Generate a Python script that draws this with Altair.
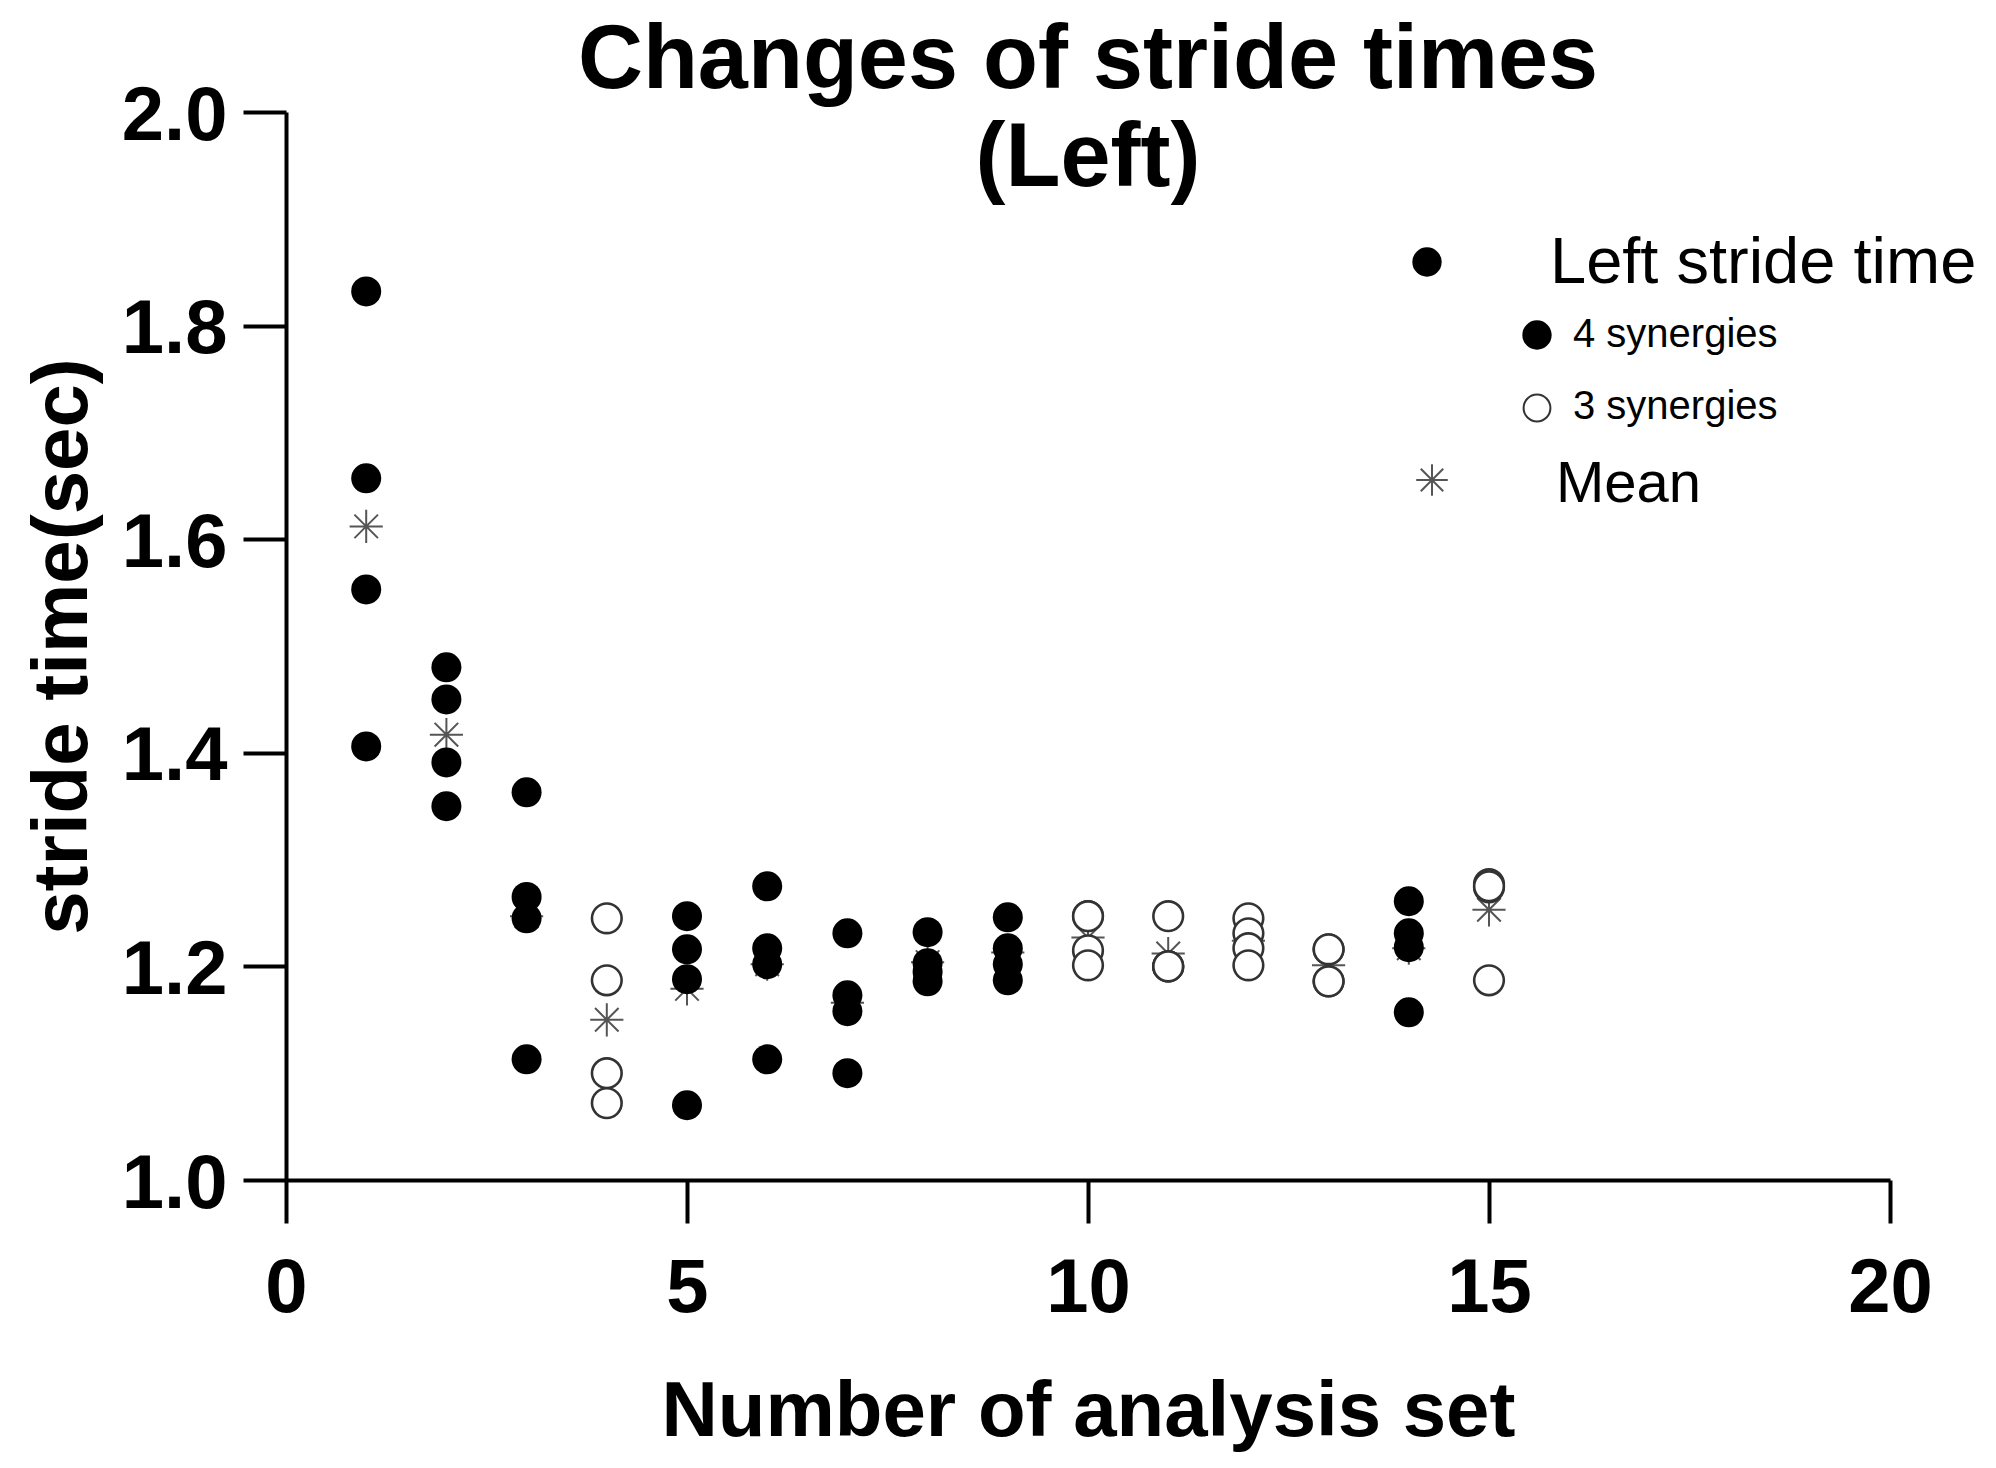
import altair as alt
import pandas as pd

# ---------------- data ----------------
four_syn_sets = [1, 1, 1, 1, 2, 2, 2, 2, 3, 3, 3, 3, 5, 5, 5, 5, 6, 6, 6, 6,
                 7, 7, 7, 7, 8, 8, 8, 8, 9, 9, 9, 9, 14, 14, 14, 14]
four_syn_times = [1.832, 1.657, 1.553, 1.406,
                  1.480, 1.450, 1.391, 1.350,
                  1.363, 1.265, 1.245, 1.113,
                  1.247, 1.216, 1.188, 1.070,
                  1.275, 1.217, 1.202, 1.113,
                  1.231, 1.173, 1.158, 1.100,
                  1.232, 1.203, 1.195, 1.186,
                  1.246, 1.217, 1.202, 1.187,
                  1.261, 1.231, 1.218, 1.157]
three_syn_sets = [4, 4, 4, 4, 10, 10, 10, 10, 11, 11, 11, 11,
                  12, 12, 12, 12, 13, 13, 13, 13, 15, 15, 15, 15]
three_syn_times = [1.245, 1.187, 1.100, 1.072,
                   1.247, 1.247, 1.215, 1.201,
                   1.247, 1.200, 1.200, 1.200,
                   1.245, 1.231, 1.217, 1.201,
                   1.216, 1.216, 1.186, 1.186,
                   1.277, 1.274, 1.275, 1.187]
mean_sets = [1, 2, 3, 4, 5, 6, 7, 8, 9, 10, 11, 12, 13, 14, 15]
mean_times = [1.612, 1.417, 1.247, 1.150, 1.179, 1.202, 1.166, 1.204,
              1.213, 1.227, 1.212, 1.224, 1.201, 1.217, 1.253]

x_ticks = [0, 5, 10, 15, 20]
y_ticks = [1.0, 1.2, 1.4, 1.6, 1.8, 2.0]

title_lines = ["Changes of stride times", "(Left)"]
x_title = "Number of analysis set"
y_title = "stride time(sec)"
legend_labels = ["Left stride time", "4 synergies", "3 synergies", "Mean"]

# ---------------- layout / style ----------------
FONT = "Liberation Sans"
W, H = 1604, 1068
ASTERISK = "M-1,0L1,0M0,-1L0,1M-0.71,-0.71L0.71,0.71M-0.71,0.71L0.71,-0.71"

# legend placement in pixels relative to the plot area
leg_sym_x = [1141, 1251, 1251, 1146]
leg_sym_y = [150, 223, 296, 368]
leg_txt_x = [1264, 1287, 1287, 1270]
leg_txt_y = [171, 235, 307, 390]
leg_txt_fs = [65, 40, 40, 58]

four_df = pd.DataFrame({"set": four_syn_sets, "time": four_syn_times})
three_df = pd.DataFrame({"set": three_syn_sets, "time": three_syn_times})
mean_df = pd.DataFrame({"set": mean_sets, "time": mean_times})

x_enc = alt.X("set:Q",
              scale=alt.Scale(domain=[0, 20], nice=False, zero=False),
              axis=alt.Axis(values=x_ticks, format="d", title=x_title,
                            labelPadding=28, labelFlush=False,
                            titleY=255, titleBaseline="alphabetic"))
y_enc = alt.Y("time:Q",
              scale=alt.Scale(domain=[1.0, 2.0], nice=False, zero=False),
              axis=alt.Axis(values=y_ticks, format=".1f", title=y_title,
                            labelPadding=16, labelOffset=4, labelFlush=False,
                            titleX=-200, titleY=H / 2, titleAngle=270,
                            titleAlign="center", titleBaseline="alphabetic"))

means = alt.Chart(mean_df).mark_point(
    shape=ASTERISK, filled=False, stroke="#555555", strokeWidth=2,
    size=1100, opacity=1
).encode(x=x_enc, y=y_enc)

open_pts = alt.Chart(three_df).mark_point(
    shape="circle", filled=True, fill="white", stroke="#333333",
    strokeWidth=2.6, size=880, opacity=1, fillOpacity=1
).encode(x="set:Q", y="time:Q")

filled_pts = alt.Chart(four_df).mark_circle(
    color="black", size=900, opacity=1
).encode(x="set:Q", y="time:Q")

# ---- legend (drawn manually to copy the original layout) ----
leg_df = pd.DataFrame({"label": legend_labels, "sx": leg_sym_x, "sy": leg_sym_y,
                       "tx": leg_txt_x, "ty": leg_txt_y, "fs": leg_txt_fs})

leg_filled = alt.Chart(leg_df.iloc[[0, 1]]).mark_circle(
    color="black", opacity=1, size=860
).encode(x=alt.X("sx:Q", scale=None), y=alt.Y("sy:Q", scale=None))

leg_open = alt.Chart(leg_df.iloc[[2]]).mark_point(
    shape="circle", filled=True, fill="white", stroke="#333333",
    strokeWidth=2, size=720, opacity=1
).encode(x=alt.X("sx:Q", scale=None), y=alt.Y("sy:Q", scale=None))

leg_mean = alt.Chart(leg_df.iloc[[3]]).mark_point(
    shape=ASTERISK, filled=False, stroke="#555555", strokeWidth=2,
    size=1000, opacity=1
).encode(x=alt.X("sx:Q", scale=None), y=alt.Y("sy:Q", scale=None))

leg_text = alt.Chart(leg_df).mark_text(
    font=FONT, align="left", baseline="alphabetic", color="black"
).encode(x=alt.X("tx:Q", scale=None), y=alt.Y("ty:Q", scale=None),
         size=alt.Size("fs:Q", scale=None), text="label:N")

chart = alt.layer(
    means, open_pts, filled_pts, leg_filled, leg_open, leg_mean, leg_text
).properties(
    width=W, height=H,
    autosize=alt.AutoSizeParams(type="none"),
    padding={"left": 278, "top": 104, "right": 98, "bottom": 280},
    title=alt.TitleParams(text=title_lines, font=FONT, fontSize=90,
                          fontWeight="bold", lineHeight=98, color="black",
                          anchor="middle", frame="group", offset=-127),
    background="white",
).configure_view(
    stroke=None
).configure_axis(
    grid=False,
    domainColor="black", domainWidth=4,
    tickColor="black", tickWidth=4, tickSize=43,
    labelFont=FONT, labelFontSize=76, labelFontWeight="bold", labelColor="black",
    titleFont=FONT, titleFontSize=78, titleFontWeight="bold", titleColor="black",
)

chart.save("out.html", embed_options={"renderer": "svg", "actions": False})
